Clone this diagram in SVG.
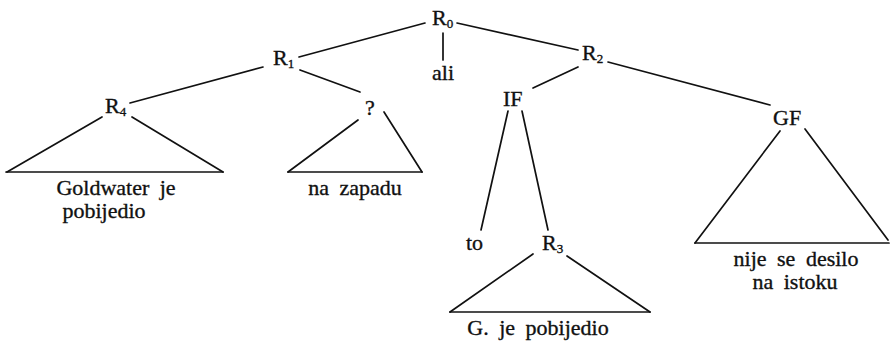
<svg xmlns="http://www.w3.org/2000/svg" width="890" height="342" viewBox="0 0 890 342">
<style>
text{font-family:"Liberation Serif","DejaVu Serif",serif;font-size:22px;fill:#111;stroke:#111;stroke-width:0.35}
.sub{font-size:13px}
.lbl{word-spacing:5px}
line{stroke:#111;stroke-width:1.7;stroke-linecap:round}
</style>
<rect width="890" height="342" fill="#fff"/>
<g id="connectors">
<line x1="425" y1="23" x2="299" y2="57"/>
<line x1="457" y1="23" x2="578" y2="50"/>
<line x1="443" y1="33" x2="443" y2="60"/>
<line x1="263" y1="67" x2="130" y2="103"/>
<line x1="300" y1="70" x2="360" y2="92"/>
<line x1="578" y1="67" x2="533" y2="88"/>
<line x1="608" y1="62" x2="770" y2="105"/>
<line x1="508" y1="111" x2="481" y2="230"/>
<line x1="522" y1="111" x2="548" y2="230"/>
</g>
<g id="R0"><text x="432" y="25">R<tspan class="sub" dy="3">0</tspan></text></g>
<g id="ali"><text x="432" y="80">ali</text></g>
<g id="R1"><text x="273" y="65">R<tspan class="sub" dy="3">1</tspan></text></g>
<g id="R2"><text x="582" y="60">R<tspan class="sub" dy="3">2</tspan></text></g>
<g id="R4"><text x="105" y="113">R<tspan class="sub" dy="3">4</tspan></text></g>
<g id="Q"><text x="365" y="115">?</text></g>
<g id="IF"><text x="503" y="106">IF</text></g>
<g id="GF"><text x="773" y="125">GF</text></g>
<g id="to"><text x="466" y="250">to</text></g>
<g id="R3"><text x="542" y="250">R<tspan class="sub" dy="3">3</tspan></text></g>
<g id="tri-R4">
<line x1="102" y1="117" x2="7" y2="172"/>
<line x1="132" y1="117" x2="223" y2="172"/>
<line x1="6" y1="172" x2="223" y2="172"/>
<text class="lbl" x="116" y="195" text-anchor="middle">Goldwater je</text>
<text x="104" y="218" text-anchor="middle">pobijedio</text>
</g>
<g id="tri-Q">
<line x1="358" y1="120" x2="288" y2="172"/>
<line x1="384" y1="112" x2="422" y2="172"/>
<line x1="288" y1="172" x2="422" y2="172"/>
<text class="lbl" x="355" y="195" text-anchor="middle">na zapadu</text>
</g>
<g id="tri-R3">
<line x1="533" y1="254" x2="450" y2="312"/>
<line x1="567" y1="256" x2="650" y2="312"/>
<line x1="450" y1="312" x2="650" y2="312"/>
<text class="lbl" x="538" y="335" text-anchor="middle">G. je pobijedio</text>
</g>
<g id="tri-GF">
<line x1="780" y1="131" x2="695" y2="243"/>
<line x1="805" y1="129" x2="888" y2="240"/>
<line x1="695" y1="243" x2="889" y2="243"/>
<text class="lbl" x="796" y="266" text-anchor="middle">nije se desilo</text>
<text class="lbl" x="795" y="289" text-anchor="middle">na istoku</text>
</g>
</svg>
